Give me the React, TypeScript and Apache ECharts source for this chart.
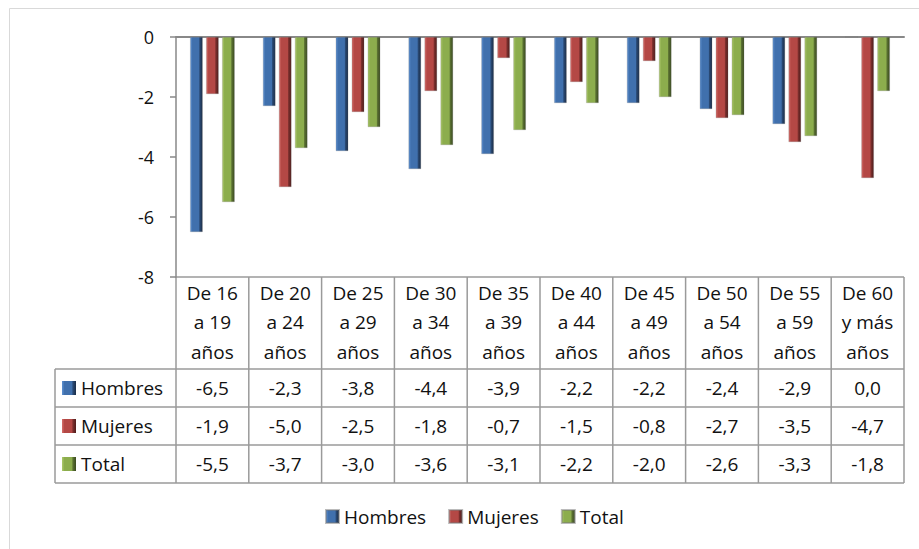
import React, { useEffect, useRef } from "react";
import * as echarts from "echarts";

const categories = [
  "De 16\na 19\naños",
  "De 20\na 24\naños",
  "De 25\na 29\naños",
  "De 30\na 34\naños",
  "De 35\na 39\naños",
  "De 40\na 44\naños",
  "De 45\na 49\naños",
  "De 50\na 54\naños",
  "De 55\na 59\naños",
  "De 60\ny más\naños",
];
const hombres = [-6.5, -2.3, -3.8, -4.4, -3.9, -2.2, -2.2, -2.4, -2.9, 0.0];
const mujeres = [-1.9, -5.0, -2.5, -1.8, -0.7, -1.5, -0.8, -2.7, -3.5, -4.7];
const total = [-5.5, -3.7, -3.0, -3.6, -3.1, -2.2, -2.0, -2.6, -3.3, -1.8];
const seriesNames = ["Hombres", "Mujeres", "Total"];
const yTicks = { min: -8, max: 0, interval: 2 };

const FONT = "'Open Sans', 'Noto Sans', sans-serif";

function grad(light: string, mid: string, dark: string, darker: string) {
  return new echarts.graphic.LinearGradient(0, 0, 1, 0, [
    { offset: 0, color: light },
    { offset: 0.18, color: mid },
    { offset: 0.7, color: mid },
    { offset: 0.78, color: dark },
    { offset: 1, color: darker },
  ]);
}

const colors = [
  () => grad("#5f92d2", "#4070ad", "#2a4a75", "#1b2d47"),
  () => grad("#d56f6b", "#b44845", "#7d302e", "#4e1c1b"),
  () => grad("#adc96c", "#8cad4d", "#5b7232", "#3a4a20"),
];

export default function App() {
  const ref = useRef<HTMLDivElement>(null);
  useEffect(() => {
    document.body.style.margin = "0";
    if (!ref.current) return;
    const chart = echarts.init(ref.current, null, { renderer: "svg" });

    const gl = 176, gt = 37, gw = 728, gh = 240;
    const colW = gw / categories.length;
    const headTop = gt + gh;
    const rowTops = [369, 407, 445, 483];
    const tableLeft = 55;
    const lineColor = "#9a9a9a";
    const dataRows = [hombres, mujeres, total];

    const graphics: any[] = [];
    graphics.push({
      type: "rect",
      shape: { x: 9.5, y: 8.5, width: 1000, height: 1000 },
      style: { fill: "none", stroke: "#d9d9d9", lineWidth: 1 },
      silent: true,
    });
    for (let i = 0; i <= categories.length; i++) {
      const x = gl + i * colW;
      graphics.push({
        type: "line",
        shape: { x1: x, y1: headTop, x2: x, y2: rowTops[3] },
        style: { stroke: lineColor, lineWidth: 1.5 },
      });
    }
    graphics.push({
      type: "line",
      shape: { x1: tableLeft, y1: rowTops[0], x2: tableLeft, y2: rowTops[3] },
      style: { stroke: lineColor, lineWidth: 1.5 },
    });
    graphics.push({
      type: "line",
      shape: { x1: gl, y1: headTop, x2: gl + gw, y2: headTop },
      style: { stroke: lineColor, lineWidth: 1.5 },
    });
    rowTops.forEach((y) => {
      graphics.push({
        type: "line",
        shape: { x1: tableLeft, y1: y, x2: gl + gw, y2: y },
        style: { stroke: lineColor, lineWidth: 1.5 },
      });
    });
    categories.forEach((c, i) => {
      graphics.push({
        type: "text",
        x: gl + (i + 0.5) * colW,
        y: (headTop + rowTops[0]) / 2 - 1,
        style: {
          text: c,
          fill: "#111",
          font: `19px ${FONT}`,
          align: "center",
          verticalAlign: "middle",
          lineHeight: 29.5,
        },
      });
    });
    dataRows.forEach((row, r) => {
      const cy = (rowTops[r] + rowTops[r + 1]) / 2;
      graphics.push({
        type: "rect",
        shape: { x: 62, y: cy - 7, width: 14, height: 14 },
        style: { fill: colors[r]() },
      });
      graphics.push({
        type: "text",
        x: 81,
        y: cy,
        style: {
          text: seriesNames[r],
          fill: "#111",
          font: `19px ${FONT}`,
          align: "left",
          verticalAlign: "middle",
        },
      });
      row.forEach((v, i) => {
        graphics.push({
          type: "text",
          x: gl + (i + 0.5) * colW,
          y: cy,
          style: {
            text: v.toFixed(1).replace(".", ","),
            fill: "#111",
            font: `19px ${FONT}`,
            align: "center",
            verticalAlign: "middle",
          },
        });
      });
    });

    const mkSeries = (name: string, data: number[], idx: number) => ({
      name,
      type: "bar",
      data,
      barWidth: 12.5,
      barGap: "28%",
      itemStyle: {
        color: colors[idx](),
        borderColor: "rgba(120,120,120,0.5)",
        borderWidth: 0.5,
      },
    });

    chart.setOption({
      animation: false,
      backgroundColor: "#fff",
      grid: { left: gl, top: gt, width: gw, height: gh, containLabel: false },
      xAxis: {
        type: "category",
        data: categories,
        axisLine: { onZero: true, lineStyle: { color: "#888", width: 2 } },
        axisTick: { show: false },
        axisLabel: { show: false },
      },
      yAxis: {
        type: "value",
        min: yTicks.min,
        max: yTicks.max,
        interval: yTicks.interval,
        axisLine: { show: true, lineStyle: { color: "#888", width: 1.5 } },
        axisTick: { show: true, length: 6, lineStyle: { color: "#888", width: 1.5 } },
        splitLine: { show: false },
        axisLabel: {
          color: "#111",
          fontFamily: FONT,
          fontSize: 18,
          margin: 22,
        },
      },
      legend: {
        data: seriesNames,
        left: 320,
        top: 502,
        itemWidth: 13,
        itemHeight: 13,
        itemGap: 22,
        icon: "rect",
        textStyle: { color: "#111", fontFamily: FONT, fontSize: 19 },
      },
      graphic: graphics,
      series: [
        mkSeries("Hombres", hombres, 0),
        mkSeries("Mujeres", mujeres, 1),
        mkSeries("Total", total, 2),
      ],
    });
    return () => chart.dispose();
  }, []);
  return <div ref={ref} style={{ width: 919, height: 549 }} />;
}
